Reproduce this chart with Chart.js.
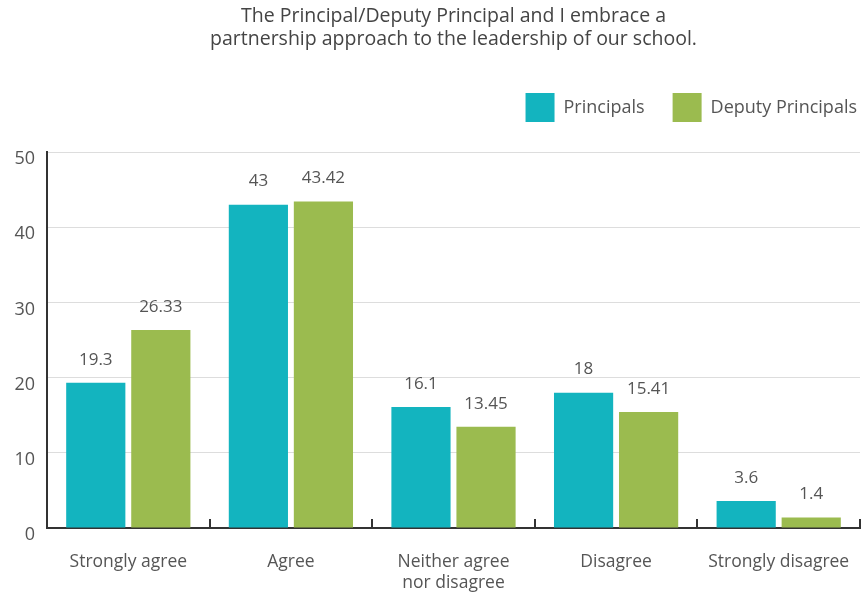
<!DOCTYPE html>
<html>
<head>
<meta charset="utf-8">
<script src="https://cdn.jsdelivr.net/npm/chart.js@4"></script>
<style>
  html, body { margin: 0; padding: 0; background: #fff; }
  #wrap { width: 861px; height: 592px; }
</style>
</head>
<body>
<div id="wrap"><canvas id="chart"></canvas></div>
<script>
const categories = ['Strongly agree', 'Agree', ['Neither agree', 'nor disagree'], 'Disagree', 'Strongly disagree'];
const principals = [19.3, 43, 16.1, 18, 3.6];
const deputyPrincipals = [26.33, 43.42, 13.45, 15.41, 1.4];
const yTicks = [0, 10, 20, 30, 40, 50];

const FONT = '"Open Sans", Lato, sans-serif';
const TEXT = '#555';

// values printed above each bar
const barValueLabels = {
  id: 'barValueLabels',
  afterDatasetsDraw(chart) {
    const ctx = chart.ctx;
    ctx.save();
    ctx.font = '17px ' + FONT;
    ctx.fillStyle = TEXT;
    ctx.textAlign = 'center';
    ctx.textBaseline = 'middle';
    chart.data.datasets.forEach((ds, i) => {
      chart.getDatasetMeta(i).data.forEach((bar, j) => {
        ctx.fillText(String(ds.data[j]), bar.x, bar.y - 23);
      });
    });
    ctx.restore();
  },
};

// extra room under the legend, and push it to the right edge
const legendSpacing = {
  id: 'legendSpacing',
  beforeInit(chart) {
    const fit = chart.legend.fit;
    chart.legend.fit = function() {
      fit.bind(chart.legend)();
      this.height += 20;
    };
  },
  beforeDraw(chart) {
    chart.legend.left += 25;
    chart.legend.right += 25;
  },
};

new Chart(document.getElementById('chart'), {
  type: 'bar',
  data: {
    labels: categories,
    datasets: [
      { label: 'Principals', data: principals, backgroundColor: '#13b4bf' },
      { label: 'Deputy Principals', data: deputyPrincipals, backgroundColor: '#9bbb4f' },
    ],
  },
  options: {
    responsive: true,
    maintainAspectRatio: false,
    animation: false,
    categoryPercentage: 0.8,
    barPercentage: 0.91,
    layout: { padding: { left: 0, right: 1, top: 0, bottom: 0 } },
    plugins: {
      title: {
        display: true,
        fullSize: false,
        text: ['The Principal/Deputy Principal and I embrace a', 'partnership approach to the leadership of our school.'],
        color: '#444',
        font: { family: FONT, size: 19.5, weight: 'normal', lineHeight: 23 / 19.5 },
        padding: { top: 5, bottom: 14 },
      },
      legend: {
        display: true,
        align: 'end',
        labels: {
          color: TEXT,
          font: { family: FONT, size: 18 },
          boxWidth: 29,
          boxHeight: 29,
          padding: 28,
        },
      },
      tooltip: { enabled: false },
    },
    scales: {
      x: {
        grid: {
          display: true,
          drawOnChartArea: false,
          color: '#333',
          lineWidth: 2,
          tickLength: -9,
        },
        border: { color: '#333', width: 2 },
        ticks: { color: TEXT, font: { family: FONT, size: 17.5 }, padding: 33, maxRotation: 0 },
        afterFit: (scale) => {
          scale.height = 64;
          scale.paddingLeft = 0;
          scale.paddingRight = 0;
        },
      },
      y: {
        min: 0,
        max: 50,
        afterBuildTicks: (scale) => { scale.ticks = yTicks.map((v) => ({ value: v })); },
        grid: { color: '#ddd', lineWidth: 1, drawTicks: false },
        border: { color: '#333', width: 2 },
        ticks: { color: TEXT, font: { family: FONT, size: 18 }, padding: 12, labelOffset: 7 },
        afterFit: (scale) => {
          scale.width = 47;
          scale.paddingTop = 0;
          scale.paddingBottom = 0;
        },
      },
    },
  },
  plugins: [barValueLabels, legendSpacing],
});
</script>
</body>
</html>
